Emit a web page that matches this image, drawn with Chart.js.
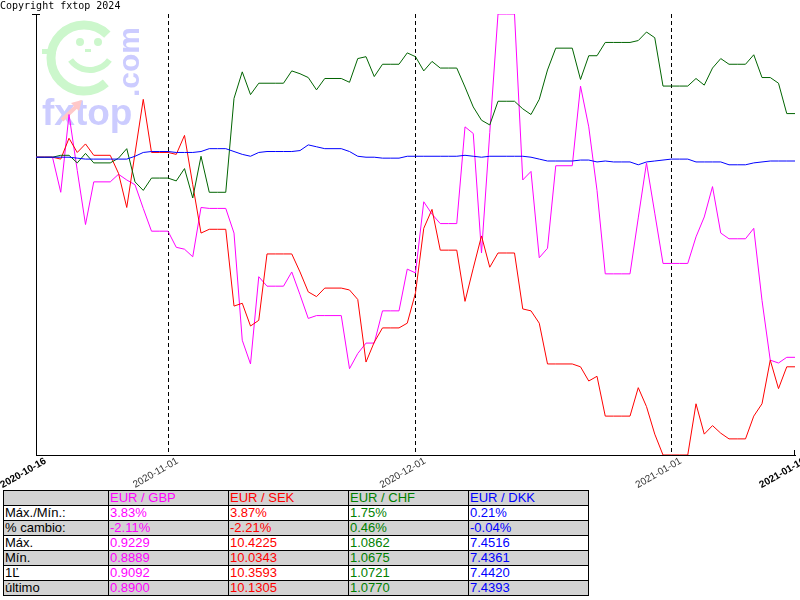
<!DOCTYPE html>
<html>
<head>
<meta charset="utf-8">
<script src="https://cdn.jsdelivr.net/npm/chart.js@4"></script>
<style>
  body { margin: 0; background: #fff; width: 800px; height: 600px; overflow: hidden; position: relative; }
  #copy { position: absolute; left: 0; top: 0; font: 10px 'DejaVu Sans Mono', monospace; line-height: 12px; color: #000; z-index: 2; }
  #wrap { position: absolute; left: 0; top: 0; width: 800px; height: 490px; }
  #stats { position: absolute; left: 3px; top: 490px; border-collapse: collapse; table-layout: fixed; font: 13px 'Liberation Sans', Arial, sans-serif; }
  #stats td { border: 1px solid #000; height: 14px; line-height: 14px; padding: 0 0 0 1px; white-space: nowrap; overflow: hidden; }
  #stats tr.g td { background: #d3d3d3; }
</style>
</head>
<body>
<div id="copy">Copyright fxtop 2024</div>
<div id="wrap"><canvas id="fx_chart" width="800" height="490"></canvas></div>
<table id="stats"></table>

<script>
// daily % change vs. 2020-10-16, one value per day up to 2021-01-16
const gbp = [0, 0, 0, -0.37, 0.45, -0.14, -0.71, -0.26, -0.26, -0.26,
  -0.18, -0.24, -0.29, -0.54, -0.78, -0.78, -0.78, -0.95, -0.97, -1.05,
  -0.53, -0.54, -0.54, -0.54, -0.80, -1.93, -2.18, -1.26, -1.36, -1.36,
  -1.36, -1.21, -1.45, -1.70, -1.67, -1.67, -1.67, -1.67, -2.23, -2.07,
  -1.96, -1.96, -1.62, -1.62, -1.62, -1.18, -1.22, -0.47, -0.60, -0.70,
  -0.70, -0.70, 0.32, 0.25, -1.01, 0.26, 1.51, 1.51, 1.51, -0.24,
  -0.15, -1.06, -0.96, -0.09, -0.09, -0.09, 0.75, 0.32, -0.35, -1.23,
  -1.23, -1.23, -1.23, -0.64, -0.06, -0.59, -1.12, -1.12, -1.12, -1.12,
  -0.84, -0.63, -0.31, -0.80, -0.86, -0.86, -0.86, -0.75, -1.51, -2.14,
  -2.17, -2.11, -2.11];

const sek = [0, 0, 0, -0.02, 0.20, 0.05, 0.14, 0.02, 0.02, 0.02,
  -0.17, -0.53, 0.04, 0.61, 0.05, 0.05, 0.05, 0.03, 0.23, -0.29,
  -0.80, -0.76, -0.76, -0.76, -1.57, -1.54, -1.78, -1.72, -1.02, -1.02,
  -1.02, -1.02, -1.21, -1.42, -1.47, -1.38, -1.38, -1.38, -1.40, -1.50,
  -2.16, -1.95, -1.80, -1.80, -1.80, -1.75, -1.43, -0.75, -0.55, -0.98,
  -0.98, -0.98, -1.52, -1.17, -0.83, -1.16, -1.01, -1.01, -1.01, -1.60,
  -1.62, -1.75, -2.18, -2.18, -2.18, -2.18, -2.21, -2.36, -2.31, -2.73,
  -2.73, -2.73, -2.73, -2.43, -2.63, -2.92, -3.14, -3.14, -3.14, -3.14,
  -2.60, -2.92, -2.83, -2.91, -2.97, -2.97, -2.97, -2.73, -2.60, -2.14,
  -2.44, -2.21, -2.21];

const chf = [0, 0, 0, 0.02, 0.02, -0.06, 0.04, -0.06, -0.06, -0.06,
  -0.01, 0.09, -0.26, -0.35, -0.22, -0.22, -0.22, -0.25, -0.12, -0.43,
  0.01, -0.37, -0.37, -0.37, 0.62, 0.90, 0.66, 0.78, 0.78, 0.78,
  0.78, 0.91, 0.88, 0.84, 0.71, 0.83, 0.83, 0.83, 0.79, 1.04,
  1.06, 0.85, 0.98, 0.98, 0.98, 1.10, 1.06, 0.91, 1.01, 0.94,
  0.94, 0.94, 0.74, 0.53, 0.39, 0.34, 0.59, 0.59, 0.59, 0.51,
  0.45, 0.61, 0.92, 1.15, 1.15, 1.15, 0.82, 1.07, 1.07, 1.21,
  1.21, 1.21, 1.21, 1.23, 1.32, 1.26, 0.75, 0.75, 0.75, 0.75,
  0.83, 0.76, 0.94, 1.04, 0.98, 0.98, 0.98, 1.08, 0.84, 0.84,
  0.78, 0.46, 0.46];

const dkk = [0, 0, 0, 0, 0, -0.01, -0.02, -0.02, -0.02, -0.02,
  -0.02, -0.02, 0.01, 0.05, 0.06, 0.06, 0.06, 0.05, 0.05, 0.05,
  0.06, 0.09, 0.09, 0.09, 0.06, 0.03, 0.01, 0.05, 0.06, 0.06,
  0.06, 0.06, 0.07, 0.13, 0.11, 0.09, 0.09, 0.09, 0.06, 0.01,
  0, 0, -0.01, -0.01, -0.01, 0.01, 0.01, 0.01, 0.01, 0.01,
  0.01, 0.01, 0.02, 0.01, 0, 0.01, 0.01, 0.01, 0.01, 0.01,
  0, -0.02, -0.04, -0.04, -0.04, -0.04, -0.03, -0.03, -0.05, -0.04,
  -0.05, -0.05, -0.05, -0.08, -0.05, -0.04, -0.03, -0.02, -0.02, -0.02,
  -0.05, -0.05, -0.05, -0.05, -0.08, -0.08, -0.08, -0.06, -0.05, -0.04,
  -0.04, -0.04, -0.04];

// x axis: day offsets and their labels
const tickDays = [0, 16, 46, 77, 92];
const tickLabels = ['2020-10-16', '2020-11-01', '2020-12-01', '2021-01-01', '2021-01-16'];
const monthDays = [16, 46, 77]; // dashed lines

// table below the chart
const pairs = ['EUR / GBP', 'EUR / SEK', 'EUR / CHF', 'EUR / DKK'];
const rowLabels = ['Máx./Mín.:', '% cambio:', 'Máx.', 'Mín.', '1Ľ', 'último'];
const gbpStats = ['3.83%', '-2.11%', '0.9229', '0.8889', '0.9092', '0.8900'];
const sekStats = ['3.87%', '-2.21%', '10.4225', '10.0343', '10.3593', '10.1305'];
const chfStats = ['1.75%', '0.46%', '1.0862', '1.0675', '1.0721', '1.0770'];
const dkkStats = ['0.21%', '-0.04%', '7.4516', '7.4361', '7.4420', '7.4393'];

const lineColors = ['#ff00ff', '#ff0000', '#006400', '#0000ff'];
const textColors = ['#ff00ff', '#ff0000', '#008000', '#0000ff'];

const allValues = gbp.concat(sek, chf, dkk);

function toPoints(arr) {
  return arr.map((v, i) => ({ x: i, y: v }));
}

// fxtop watermark, dates under the axis, little axis caps
const fxtopDecor = {
  id: 'fxtopDecor',
  beforeDatasetsDraw(chart) {
    const ctx = chart.ctx;
    ctx.save();
    // smiley
    ctx.strokeStyle = '#ccf7cc';
    ctx.fillStyle = '#ccf7cc';
    ctx.lineWidth = 9;
    ctx.beginPath();
    ctx.arc(84, 58, 33, -0.25 * Math.PI, 0.27 * Math.PI, true);
    ctx.stroke();
    ctx.fillRect(42, 49, 14, 5);
    ctx.beginPath();
    ctx.arc(80, 42, 4, 0, 2 * Math.PI);
    ctx.arc(98, 42, 4, 0, 2 * Math.PI);
    ctx.fill();
    ctx.fillRect(85, 49, 6, 3);
    ctx.lineWidth = 6;
    ctx.beginPath();
    ctx.arc(90, 46, 24, 0.2 * Math.PI, 0.8 * Math.PI);
    ctx.stroke();

    // fxtop
    ctx.font = 'bold 37px "Liberation Sans", Arial, sans-serif';
    ctx.fillStyle = '#ccccff';
    ctx.textBaseline = 'alphabetic';
    ctx.fillText('fxtop', 42, 125);
    ctx.strokeStyle = '#ffc8c8';
    ctx.lineWidth = 4;
    ctx.beginPath();
    ctx.moveTo(62, 120);
    ctx.lineTo(78, 105);
    ctx.stroke();
    ctx.fillStyle = '#ffc8c8';
    ctx.beginPath();
    ctx.moveTo(82, 100);
    ctx.lineTo(71, 103);
    ctx.lineTo(79, 111);
    ctx.closePath();
    ctx.fill();

    // .com
    ctx.fillStyle = '#ccccff';
    ctx.font = 'bold 30px "Liberation Sans", Arial, sans-serif';
    ctx.translate(139, 97);
    ctx.rotate(-Math.PI / 2);
    ctx.fillText('.com', 0, 0);
    ctx.restore();
  },
  afterDraw(chart) {
    const ctx = chart.ctx;
    const area = chart.chartArea;
    const xs = chart.scales.x;
    ctx.save();
    ctx.strokeStyle = '#000';
    ctx.lineWidth = 1;
    ctx.beginPath();
    ctx.moveTo(area.left - 4, area.top + 0.5);
    ctx.lineTo(area.left + 4, area.top + 0.5);
    ctx.moveTo(area.right - 0.5, area.bottom);
    ctx.lineTo(area.right - 0.5, area.bottom - 5);
    ctx.stroke();

    tickDays.forEach((d, k) => {
      const x = xs.getPixelForValue(d);
      const end = k === 0 || k === tickDays.length - 1;
      ctx.save();
      ctx.translate(x + 7, area.bottom + 1);
      ctx.rotate(-30 * Math.PI / 180);
      ctx.font = (end ? 'bold ' : '') + '10px "Liberation Sans", Arial, sans-serif';
      ctx.fillStyle = end ? '#000' : '#333';
      ctx.textAlign = 'right';
      ctx.textBaseline = 'top';
      ctx.fillText(tickLabels[k], 0, 0);
      ctx.restore();
    });
    ctx.restore();
  }
};

const series = [gbp, sek, chf, dkk];

const config = {
  type: 'line',
  data: {
    datasets: series.map((s, i) => ({
      label: pairs[i],
      data: toPoints(s),
      borderColor: lineColors[i],
      backgroundColor: lineColors[i],
      borderWidth: 1,
      pointRadius: 0,
      tension: 0,
      fill: false,
      order: 4 - i
    }))
  },
  options: {
    responsive: false,
    animation: false,
    devicePixelRatio: 1,
    layout: { padding: { left: 36, top: 14, right: 5, bottom: 35 } },
    plugins: {
      legend: { display: false },
      tooltip: { enabled: false }
    },
    scales: {
      x: {
        type: 'linear',
        min: 0,
        max: gbp.length - 1,
        afterBuildTicks: (scale) => {
          scale.ticks = monthDays.map(v => ({ value: v }));
        },
        ticks: { display: false },
        grid: { color: '#000', lineWidth: 1, drawTicks: false },
        border: { color: '#000', width: 1, dash: [4, 3] }
      },
      y: {
        min: Math.min(...allValues),
        max: Math.max(...allValues),
        ticks: { display: false },
        grid: { display: false, drawTicks: false },
        border: { color: '#000', width: 1 }
      }
    }
  },
  plugins: [fxtopDecor]
};

let myChart = new Chart(document.getElementById('fx_chart'), config);

// stats table
const stats = [gbpStats, sekStats, chfStats, dkkStats];
const table = document.getElementById('stats');
let html = '<colgroup><col style="width:105px">' + pairs.map(() => '<col style="width:120px">').join('') + '</colgroup>';
html += '<tr class="g"><td></td>' + pairs.map((p, i) => '<td style="color:' + textColors[i] + '">' + p + '</td>').join('') + '</tr>';
rowLabels.forEach((lab, r) => {
  html += '<tr' + (r % 2 === 1 ? ' class="g"' : '') + '><td>' + lab + '</td>' +
    stats.map((st, i) => '<td style="color:' + textColors[i] + '">' + st[r] + '</td>').join('') + '</tr>';
});
table.innerHTML = html;
</script>
</body>
</html>
